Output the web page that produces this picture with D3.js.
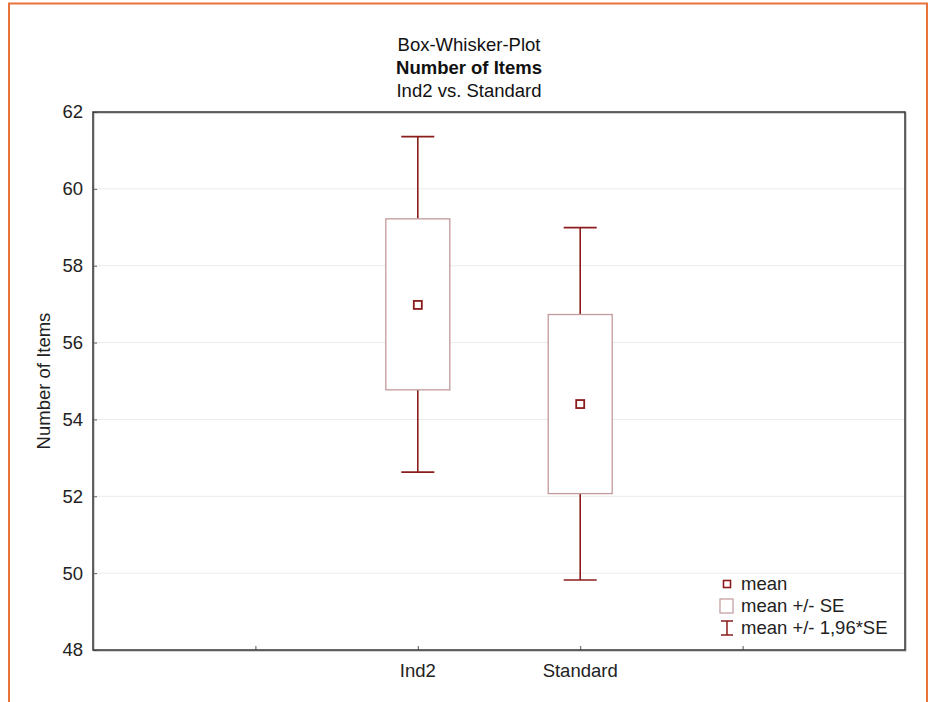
<!DOCTYPE html>
<html>
<head>
<meta charset="utf-8">
<script src="https://cdn.jsdelivr.net/npm/d3@7"></script>
<style>
  body { margin: 0; background: #fff; }
  svg { display: block; font-family: "Liberation Sans", Arial, sans-serif; }
</style>
</head>
<body>
<div id="chart"></div>
<script>
const groups = ["Ind2", "Standard"];
const groupPos = [2, 3];
const means = [56.98, 54.4];
const seLow = [54.77, 52.07];
const seHigh = [59.22, 56.73];
const ciLow = [52.63, 49.82];
const ciHigh = [61.36, 58.99];
const yTicks = [48, 50, 52, 54, 56, 58, 60, 62];
const titleLines = ["Box-Whisker-Plot", "Number of Items", "Ind2 vs. Standard"];
const legendLabels = ["mean", "mean +/- SE", "mean +/- 1,96*SE"];

const width = 931;
const height = 702;
const margin = { top: 112, right: 26, bottom: 52, left: 93 };
const usableArea = {
  left: margin.left,
  right: width - margin.right,
  top: margin.top,
  bottom: height - margin.bottom,
};

const dark = "#8b1c1c";
const boxColor = "#c49a9a";
const fs = 18.5;

const svg = d3
  .select("#chart")
  .append("svg")
  .attr("width", width)
  .attr("height", height);

// orange page frame
svg.append("path")
  .attr("d", `M9,${height} V3.5 H927 V${height}`)
  .attr("fill", "none")
  .attr("stroke", "#e8743b")
  .attr("stroke-width", 2);

const xScale = d3.scaleLinear().domain([0, 5]).range([usableArea.left, usableArea.right]);
const yScale = d3.scaleLinear().domain([48, 62]).range([usableArea.bottom, usableArea.top]);

// gridlines
svg.append("g")
  .selectAll("line")
  .data(yTicks.slice(1, -1))
  .join("line")
  .attr("x1", usableArea.left)
  .attr("x2", usableArea.right)
  .attr("y1", (d) => yScale(d))
  .attr("y2", (d) => yScale(d))
  .attr("stroke", "#ebebeb")
  .attr("stroke-width", 1);

// axes
const yAxis = svg.append("g")
  .attr("transform", `translate(${usableArea.left},0)`)
  .call(d3.axisRight(yScale).tickValues(yTicks).tickSize(4).tickFormat(""));
yAxis.select(".domain").remove();
yAxis.selectAll("line").attr("stroke", "#555");

svg.append("g")
  .selectAll("text")
  .data(yTicks)
  .join("text")
  .attr("x", usableArea.left - 10)
  .attr("y", (d) => yScale(d))
  .attr("dy", "0.35em")
  .attr("text-anchor", "end")
  .attr("font-size", fs)
  .attr("fill", "#222")
  .text((d) => d);

const xAxis = svg.append("g")
  .attr("transform", `translate(0,${usableArea.bottom})`)
  .call(d3.axisTop(xScale).tickValues([1, 2, 3, 4]).tickSize(4).tickFormat(""));
xAxis.select(".domain").remove();
xAxis.selectAll("line").attr("stroke", "#555");

svg.append("g")
  .selectAll("text")
  .data(groups)
  .join("text")
  .attr("x", (d, i) => xScale(groupPos[i]))
  .attr("y", usableArea.bottom + 27)
  .attr("text-anchor", "middle")
  .attr("font-size", fs)
  .attr("fill", "#222")
  .text((d) => d);

// plot frame with slight shadow
svg.append("rect")
  .attr("x", usableArea.left + 1)
  .attr("y", usableArea.top + 1)
  .attr("width", usableArea.right - usableArea.left)
  .attr("height", usableArea.bottom - usableArea.top)
  .attr("fill", "none")
  .attr("stroke", "#aaa")
  .attr("stroke-width", 1);
svg.append("rect")
  .attr("x", usableArea.left)
  .attr("y", usableArea.top)
  .attr("width", usableArea.right - usableArea.left)
  .attr("height", usableArea.bottom - usableArea.top)
  .attr("fill", "none")
  .attr("stroke", "#333")
  .attr("stroke-width", 1.5);

// boxes and whiskers
const boxW = 64;
const capW = 33;
const marks = svg.append("g");
groups.forEach((g, i) => {
  const cx = xScale(groupPos[i]);
  marks.append("line")
    .attr("x1", cx).attr("x2", cx)
    .attr("y1", yScale(ciHigh[i])).attr("y2", yScale(seHigh[i]))
    .attr("stroke", dark).attr("stroke-width", 1.6);
  marks.append("line")
    .attr("x1", cx).attr("x2", cx)
    .attr("y1", yScale(seLow[i])).attr("y2", yScale(ciLow[i]))
    .attr("stroke", dark).attr("stroke-width", 1.6);
  [ciHigh[i], ciLow[i]].forEach((v) => {
    marks.append("line")
      .attr("x1", cx - capW / 2).attr("x2", cx + capW / 2)
      .attr("y1", yScale(v)).attr("y2", yScale(v))
      .attr("stroke", dark).attr("stroke-width", 1.6);
  });
  marks.append("rect")
    .attr("x", cx - boxW / 2)
    .attr("y", yScale(seHigh[i]))
    .attr("width", boxW)
    .attr("height", yScale(seLow[i]) - yScale(seHigh[i]))
    .attr("fill", "#fff")
    .attr("stroke", boxColor)
    .attr("stroke-width", 1.3);
  marks.append("rect")
    .attr("x", cx - 4)
    .attr("y", yScale(means[i]) - 4)
    .attr("width", 8)
    .attr("height", 8)
    .attr("fill", "#fff")
    .attr("stroke", dark)
    .attr("stroke-width", 1.8);
});

// titles
const titles = svg.append("g").attr("text-anchor", "middle").attr("fill", "#111");
titleLines.forEach((t, i) => {
  titles.append("text")
    .attr("x", 469)
    .attr("y", 50.5 + i * 23)
    .attr("font-size", fs)
    .attr("font-weight", i === 1 ? "bold" : "normal")
    .text(t);
});

// y label
svg.append("text")
  .attr("transform", `translate(49.5,${(usableArea.top + usableArea.bottom) / 2}) rotate(-90)`)
  .attr("text-anchor", "middle")
  .attr("font-size", fs)
  .attr("fill", "#222")
  .text("Number of Items");

// legend
const legend = svg.append("g").attr("transform", "translate(727,584)");
legendLabels.forEach((t, i) => {
  legend.append("text")
    .attr("x", 14)
    .attr("y", i * 22)
    .attr("dy", "0.35em")
    .attr("font-size", fs)
    .attr("fill", "#222")
    .text(t);
});
legend.append("rect")
  .attr("x", -3.5).attr("y", -3.5).attr("width", 7).attr("height", 7)
  .attr("fill", "#fff").attr("stroke", dark).attr("stroke-width", 1.6);
legend.append("rect")
  .attr("x", -7).attr("y", 22 - 7).attr("width", 13).attr("height", 14)
  .attr("fill", "#fff").attr("stroke", boxColor).attr("stroke-width", 1.2);
legend.append("path")
  .attr("d", "M-6,37 H6 M0,37 V51 M-6,51 H6")
  .attr("fill", "none").attr("stroke", dark).attr("stroke-width", 1.5);
</script>
</body>
</html>
